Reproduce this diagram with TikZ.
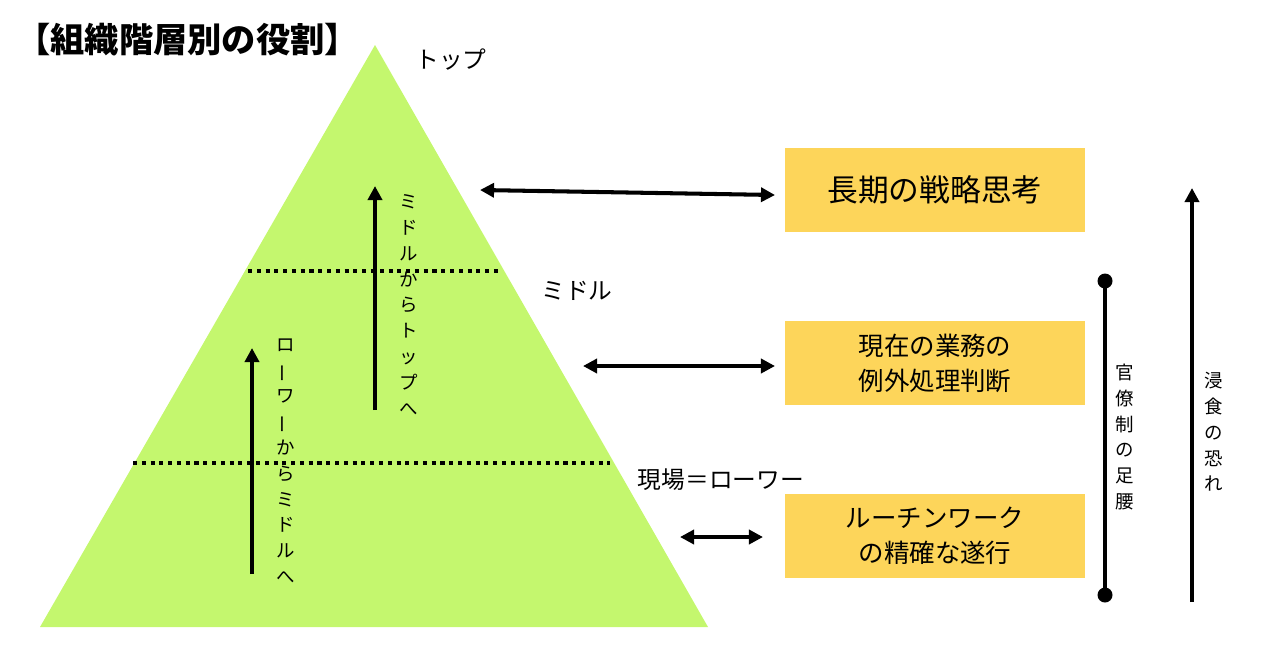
\documentclass[tikz,border=0pt]{standalone}
\usepackage{fontspec}
\usepackage{graphicx}
\setmainfont{Noto Sans CJK JP}
\usetikzlibrary{arrows.meta}
\definecolor{lime}{HTML}{C4F76E}
\definecolor{box}{HTML}{FDD55A}
\newcommand{\vbar}{\rotatebox[origin=c]{90}{ー}}
\begin{document}
\begin{tikzpicture}[x=0.02cm,y=-0.02cm,
  arr/.style={line width=2.3pt,-{Triangle[length=8pt,width=8pt]}},
  darr/.style={line width=2.3pt,{Triangle[length=8pt,width=8pt]}-{Triangle[length=8pt,width=8pt]}},
  dots/.style={line width=2.3pt,dash pattern=on 2.3pt off 2.7pt},
  yb/.style={fill=box,minimum width=300*0.02cm,minimum height=84*0.02cm,align=center,inner sep=0pt},
  vt/.style={align=center,text width=1.2em,font=\fontsize{10.5}{14.7}\selectfont,inner sep=0pt},
  lab/.style={font=\fontsize{13.5}{16}\selectfont,inner sep=0pt}]
\useasboundingbox (0,0) rectangle (1280,670);
\fill[lime] (375,45) -- (708,627) -- (40,627) -- cycle;
\draw[dots] (248,271) -- (502,271);
\draw[dots] (133,463) -- (610,463);
\node[anchor=west,font=\fontsize{19.5}{22}\selectfont\bfseries,inner sep=0pt] (title) at (16,40) {【組織階層別の役割】};
\node[lab] (top) at (451,60) {トップ};
\node[lab] (mid) at (577,291) {ミドル};
\node[lab] (low) at (721,480) {現場＝ローワー};
\coordinate (a1s) at (375,410); \coordinate (a1e) at (375,186);
\draw[arr] (a1s) -- (a1e);
\coordinate (a2s) at (252,574); \coordinate (a2e) at (252,348);
\draw[arr] (a2s) -- (a2e);
\node[vt] (v1) at (409,305) {ミ\\ド\\ル\\か\\ら\\ト\\ッ\\プ\\へ};
\node[vt] (v2) at (286,461) {ロ\\\vbar\\ワ\\\vbar\\か\\ら\\ミ\\ド\\ル\\へ};
\node[yb,font=\fontsize{17.5}{20}\selectfont] (b1) at (935,190) {長期の戦略思考};
\node[yb,font=\fontsize{14.5}{20}\selectfont] (b2) at (935,363) {現在の業務の\\例外処理判断};
\node[yb,font=\fontsize{14.5}{20}\selectfont] (b3) at (935,536) {ルーチンワーク\\の精確な遂行};
\coordinate (d1a) at (480,190); \coordinate (d1b) at (775,195);
\draw[darr] (d1a) -- (d1b);
\coordinate (d2a) at (583,366); \coordinate (d2b) at (775,366);
\draw[darr] (d2a) -- (d2b);
\coordinate (d3a) at (680,537); \coordinate (d3b) at (763,537);
\draw[darr] (d3a) -- (d3b);
\coordinate (p1) at (1105,281); \coordinate (p2) at (1105,595);
\draw[line width=2.3pt] (p1) -- (p2);
\fill (p1) circle (7.5); \fill (p2) circle (7.5);
\node[vt] (v3) at (1125,437) {官\\僚\\制\\の\\足\\腰};
\coordinate (r1) at (1192,602); \coordinate (r2) at (1192,188);
\draw[arr] (r1) -- (r2);
\node[vt] (v4) at (1214,432) {浸\\食\\の\\恐\\れ};
\end{tikzpicture}
\end{document}
